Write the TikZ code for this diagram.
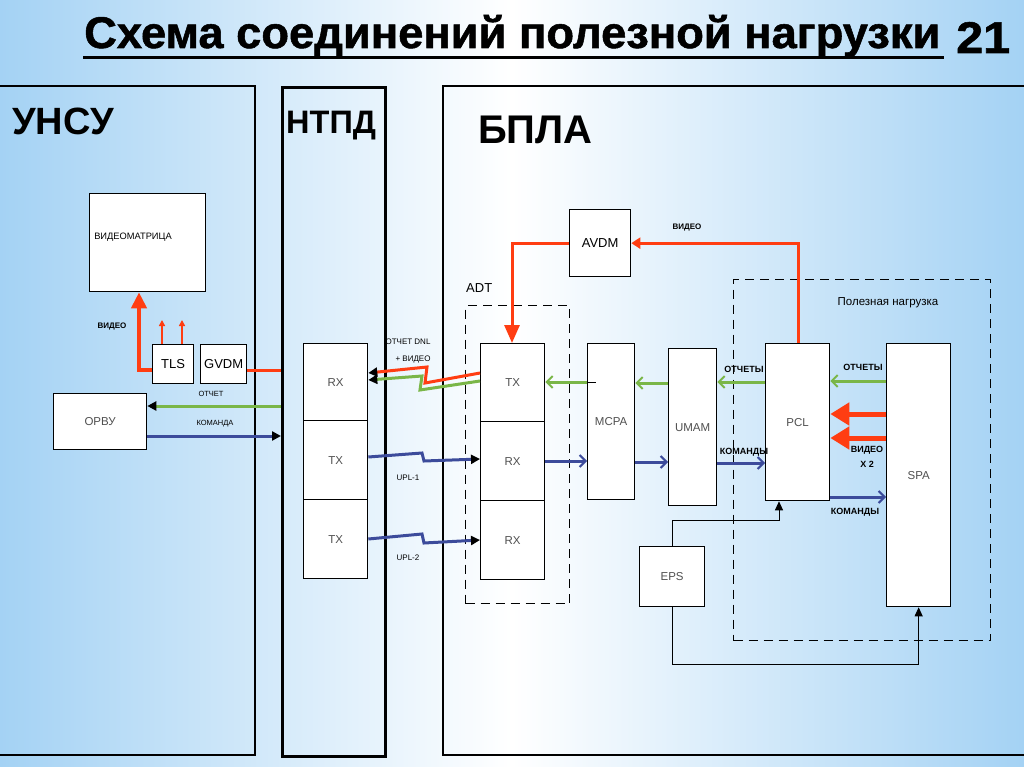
\documentclass[tikz,border=0pt]{standalone}
\usepackage{fontspec}
\setmainfont{Liberation Sans}
\newfontfamily\titlefont[FakeBold=1.2]{Liberation Sans Bold}
\usetikzlibrary{arrows.meta,calc}
\definecolor{bgblue}{HTML}{A4D2F4}
\definecolor{redc}{HTML}{FF3D12}
\definecolor{greenc}{HTML}{7AB648}
\definecolor{bluec}{HTML}{3C4B9B}
\definecolor{txtgray}{HTML}{505050}
\begin{document}
\begin{tikzpicture}[x=1pt,y=-1pt,
  panel/.style={draw=black,line width=2.6pt},
  box/.style={draw=black,line width=1.3pt,fill=white,anchor=north west,inner sep=0pt,
    font=\fontsize{11.5}{12}\selectfont,text=txtgray},
  bbox/.style={box,font=\fontsize{13}{14}\selectfont,text=black},
  dbox/.style={draw=black,line width=1.4pt,dash pattern=on 9pt off 6pt,anchor=north west,inner sep=0pt},
  lbl/.style={inner sep=0pt,font=\fontsize{8}{9}\selectfont\bfseries},
  lblb/.style={inner sep=0pt,font=\fontsize{9}{10}\selectfont\bfseries},
  redthick/.style={draw=redc,line width=4.5pt,-{Triangle[length=16pt,width=15pt]}},
  redmid/.style={draw=redc,line width=3pt},
  redthin/.style={draw=redc,line width=1.5pt,-{Triangle[length=6pt,width=6pt]}},
  garrow/.style={draw=greenc,line width=3pt,-{Straight Barb[length=6pt,width=12pt,line width=2pt]}},
  barrow/.style={draw=bluec,line width=3pt,-{Straight Barb[length=6pt,width=12pt,line width=2pt]}},
  ktip/.style={-{Triangle[length=9pt,width=9pt,fill=black,color=black]}},
  thin/.style={draw=black,line width=1pt,-{Triangle[length=9pt,width=8pt]}}
]
\useasboundingbox (0,0) rectangle (1024,767);
\shade[left color=bgblue,right color=bgblue,middle color=white] (0,0) rectangle (1024,767);

% title
\node[anchor=base west,inner sep=0pt] (title) at (84,48) {\resizebox{856pt}{33pt}{\titlefont Схема соединений полезной нагрузки}};
\draw[line width=3pt] (83,58) -- (944,58);
\node[anchor=base west,inner sep=0pt] (num) at (956,53) {\resizebox{54pt}{31pt}{\titlefont 21}};

% panels
\draw[panel] (-5,86) -- (255,86) -- (255,755) -- (-5,755);
\node[panel,anchor=north west,minimum width=103pt,minimum height=669pt,inner sep=0pt] (ntpdp) at (281,86) {};
\draw[panel] (1030,86) -- (443,86) -- (443,755) -- (1030,755);
\node[anchor=base west,inner sep=0pt,font=\fontsize{38}{40}\selectfont\bfseries] (unsu) at (12,135) {УНСУ};
\node[anchor=base west,inner sep=0pt,font=\fontsize{32.5}{34}\selectfont\bfseries] (ntpd) at (286,134) {НТПД};
\node[anchor=base west,inner sep=0pt,font=\fontsize{40}{42}\selectfont\bfseries] (bpla) at (478,144) {БПЛА};

% dashed groups
\node[dbox,minimum width=104pt,minimum height=298pt] (adt) at (465,305) {};
\node[anchor=base west,inner sep=0pt,font=\fontsize{13}{14}\selectfont] (adtl) at (466,292) {ADT};
\node[dbox,minimum width=257pt,minimum height=361pt] (pn) at (733,279) {};
\node[inner sep=0pt,font=\fontsize{11.5}{12}\selectfont] (pnl) at (888,303) {Полезная нагрузка};

% UNSU boxes
\node[box,minimum width=116pt,minimum height=98pt] (vm) at (89,193) {};
\node[inner sep=0pt,font=\fontsize{9.3}{10}\selectfont] (vml) at (133,237) {ВИДЕОМАТРИЦА};
\node[bbox,minimum width=41pt,minimum height=39pt] (tls) at (152,344) {TLS};
\node[bbox,minimum width=46pt,minimum height=39pt] (gvdm) at (200,344) {GVDM};
\node[box,minimum width=93pt,minimum height=56pt,font=\fontsize{11.5}{12}\selectfont] (orvu) at (53,393) {ОРВУ};

% NTPD boxes
\node[box,minimum width=64pt,minimum height=77pt] (nrx) at (303,343) {RX};
\node[box,minimum width=64pt,minimum height=79pt] (ntx1) at (303,420) {TX};
\node[box,minimum width=64pt,minimum height=79pt] (ntx2) at (303,499) {TX};

% ADT boxes
\node[box,minimum width=64pt,minimum height=78pt] (atx) at (480,343) {TX};
\node[box,minimum width=64pt,minimum height=79pt] (arx1) at (480,421) {RX};
\node[box,minimum width=64pt,minimum height=79pt] (arx2) at (480,500) {RX};

% BPLA boxes
\node[bbox,minimum width=61pt,minimum height=67pt] (avdm) at (569,209) {AVDM};
\node[box,minimum width=47pt,minimum height=156pt] (mcpa) at (587,343) {MCPA};
\node[box,minimum width=48pt,minimum height=157pt] (umam) at (668,348) {UMAM};
\node[box,minimum width=64pt,minimum height=157pt] (pcl) at (765,343) {PCL};
\node[box,minimum width=64pt,minimum height=263pt] (spa) at (886,343) {SPA};
\node[box,minimum width=65pt,minimum height=60pt] (eps) at (639,546) {EPS};

% UNSU connectors
\draw[redthick] (tls.west |- 0,370) -| (vm.south -| 139,0);
\draw[redthin] (tls.north -| 162,0) -- ++(0,-24);
\draw[redthin] (tls.north -| 182,0) -- ++(0,-24);
\draw[redmid] (gvdm.east |- 0,370) -- (ntpdp.west |- 0,370);
\draw[draw=greenc,line width=3pt,ktip] (ntpdp.west |- 0,406) -- (orvu.east |- 0,406);
\draw[draw=bluec,line width=3pt,ktip] (orvu.east |- 0,436) -- (ntpdp.west |- 0,436);
\node[lbl] (l1) at (112,327) {ВИДЕО};
\node[lbl,font=\fontsize{7.5}{8}\selectfont] (l2) at (211,394) {ОТЧЕТ};
\node[lbl,font=\fontsize{7.5}{8}\selectfont] (l3) at (215,424) {КОМАНДА};

% radio links
\draw[draw=greenc,line width=3pt,ktip] (atx.west |- 0,381) -- (420,390) -- (422,376) -- (nrx.east |- 0,380);
\draw[draw=redc,line width=3pt,ktip] (atx.west |- 0,373) -- (425,383) -- (427,367) -- (nrx.east |- 0,373);
\draw[draw=bluec,line width=3pt,ktip] (ntx1.east |- 0,457) -- (422,453) -- (424,461) -- (arx1.west |- 0,459);
\draw[draw=bluec,line width=3pt,ktip] (ntx2.east |- 0,539) -- (422,534) -- (424,543) -- (arx2.west |- 0,540);
\node[inner sep=0pt,font=\fontsize{8}{9}\selectfont] (l4) at (408,342) {ОТЧЕТ DNL};
\node[inner sep=0pt,font=\fontsize{8}{9}\selectfont] (l5) at (413,360) {+ ВИДЕО};
\node[inner sep=0pt,font=\fontsize{8}{9}\selectfont] (l6) at (408,478) {UPL-1};
\node[inner sep=0pt,font=\fontsize{8}{9}\selectfont] (l7) at (408,558) {UPL-2};

% video path
\draw[redmid,-{Triangle[length=18pt,width=15pt]}] (avdm.west) -| (atx.north -| 512,0);
\draw[redmid,-{Triangle[length=9pt,width=11pt]}] (pcl.north -| 798,0) |- (avdm.east);
\node[lbl] (l8) at (687,228) {ВИДЕО};

% reports
\draw[garrow] (spa.west |- 0,381) -- (pcl.east |- 0,381);
\draw[garrow] (pcl.west |- 0,382) -- (umam.east |- 0,382);
\draw[garrow] (umam.west |- 0,383) -- (mcpa.east |- 0,383);
\draw[garrow] (mcpa.west |- 0,382) -- (atx.east |- 0,382);
\draw[line width=0.8pt] (mcpa.west |- 0,382) -- ++(9,0);
\node[lblb] (l9) at (744,369) {ОТЧЕТЫ};
\node[lblb] (l10) at (863,367) {ОТЧЕТЫ};

% video x2
\draw[draw=redc,line width=5pt,-{Triangle[length=19pt,width=22pt]}] (spa.west |- 0,414) -- (pcl.east |- 0,414);
\draw[draw=redc,line width=5pt,-{Triangle[length=19pt,width=22pt]}] (spa.west |- 0,438) -- (pcl.east |- 0,438);
\node[lblb] (l11) at (867,450) {ВИДЕО};
\node[lblb] (l12) at (867,464) {X 2};

% commands
\draw[barrow] (arx1.east |- 0,461) -- (mcpa.west |- 0,461);
\draw[barrow] (mcpa.east |- 0,462) -- (umam.west |- 0,462);
\draw[barrow] (umam.east |- 0,463) -- (pcl.west |- 0,463);
\draw[barrow] (pcl.east |- 0,497) -- (spa.west |- 0,497);
\node[lblb] (l13) at (744,452) {КОМАНДЫ};
\node[lblb] (l14) at (855,512) {КОМАНДЫ};

% power
\draw[thin] (eps.north) -- (eps.north |- 0,520) -| (pcl.south -| 779,0);
\draw[thin] (eps.south) -- (eps.south |- 0,664) -| (spa.south);
\end{tikzpicture}
\end{document}
